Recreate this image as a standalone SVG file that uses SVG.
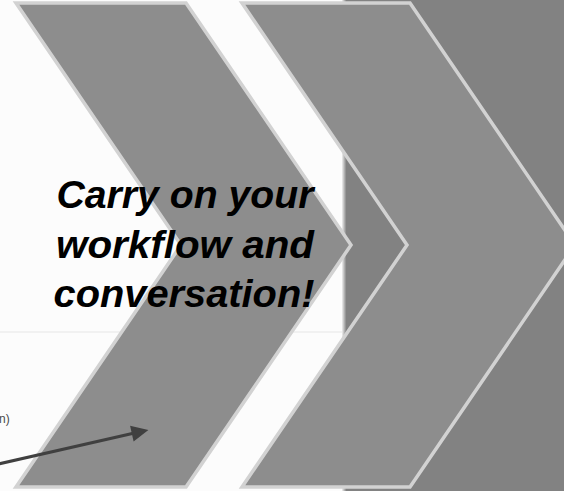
<svg xmlns="http://www.w3.org/2000/svg" width="564" height="491" viewBox="0 0 564 491">
  <style>
    .chev { fill: #8d8d8d; stroke: #d2d2d2; stroke-width: 3.5; stroke-linejoin: miter; }
    .title { font-family: "Liberation Sans", Arial, sans-serif; font-weight: bold; font-style: italic; font-size: 38px; fill: #000; text-anchor: middle; }
    .small { font-family: "Liberation Sans", Arial, sans-serif; font-size: 12px; fill: #4a4a4a; }
    .conn { stroke: #404040; stroke-width: 3.2; fill: none; }
  </style>
  <defs>
    <marker id="arrowhead" markerWidth="5" markerHeight="5" refX="0" refY="2.5" orient="auto" markerUnits="strokeWidth" overflow="visible">
      <path d="M-0.5,0 L4.8,2.5 L-0.5,5 Z" fill="#404040"/>
    </marker>
    <linearGradient id="shade" x1="0" y1="0" x2="1" y2="0">
      <stop offset="0" stop-color="#f0f0f0"/>
      <stop offset="1" stop-color="#8a8a8a"/>
    </linearGradient>
  </defs>

  <g id="background">
    <rect x="0" y="0" width="564" height="491" fill="#fcfcfc"/>
    <line x1="0" y1="332" x2="345" y2="332" stroke="#e6e6e6" stroke-width="1.2"/>
    <rect x="345" y="0" width="219" height="491" fill="#828282"/>
    <rect x="342" y="0" width="4" height="491" fill="url(#shade)"/>
    <text class="small" x="-1" y="423">n)</text>
  </g>

  <g id="chevron-1">
    <polygon class="chev" points="16,3 186,3 351,245 186,487 16,487 181,245"/>
  </g>

  <g id="chevron-2">
    <polygon class="chev" points="242,3 410,3 575,245 410,487 242,487 407,245"/>
  </g>

  <g id="label">
    <text class="title" x="185" y="208" textLength="257" lengthAdjust="spacingAndGlyphs">Carry on your</text>
    <text class="title" x="185" y="258" textLength="258" lengthAdjust="spacingAndGlyphs">workflow and</text>
    <text class="title" x="184" y="307" textLength="261" lengthAdjust="spacingAndGlyphs">conversation!</text>
  </g>

  <g id="connectors">
    <line class="conn" x1="-2" y1="464" x2="133.4" y2="433.3" marker-end="url(#arrowhead)"/>
  </g>
</svg>
